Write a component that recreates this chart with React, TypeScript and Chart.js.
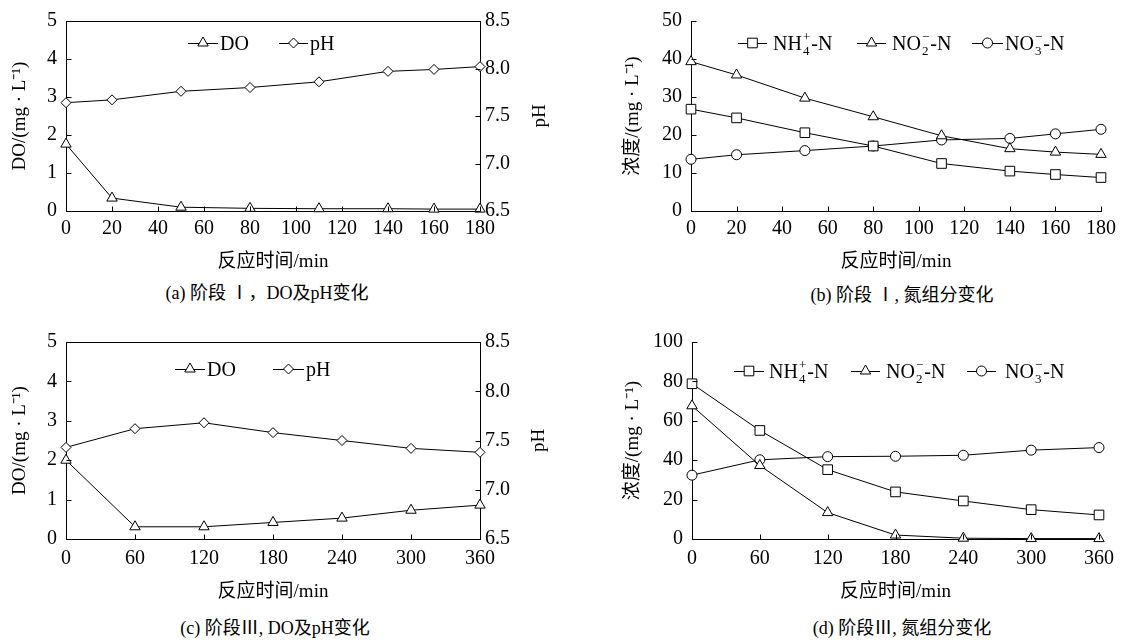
import React, { useEffect, useRef } from 'react';
import { Chart, registerables } from 'chart.js';

Chart.register(...registerables);

const SERIF = '"Liberation Serif", "Times New Roman", "Noto Sans CJK SC", serif';

// ---------- data ----------
const timeA = [0, 20, 50, 80, 110, 140, 160, 180];
const doA = [1.76, 0.34, 0.1, 0.07, 0.06, 0.06, 0.05, 0.05];
const phA = [7.64, 7.67, 7.76, 7.8, 7.86, 7.97, 7.99, 8.02];

const timeB = [0, 20, 50, 80, 110, 140, 160, 180];
const nh4B = [26.8, 24.5, 20.6, 17.1, 12.5, 10.5, 9.6, 8.8];
const no2B = [39.3, 35.8, 29.7, 24.8, 19.8, 16.4, 15.5, 14.9];
const no3B = [13.6, 14.8, 15.9, 17.1, 18.7, 19.1, 20.3, 21.5];

const timeC = [0, 60, 120, 180, 240, 300, 360];
const doC = [2.0, 0.31, 0.31, 0.42, 0.53, 0.73, 0.86];
const phC = [7.43, 7.62, 7.68, 7.58, 7.5, 7.42, 7.38];

const timeD = [0, 60, 120, 180, 240, 300, 360];
const nh4D = [78.8, 55.1, 35.2, 23.9, 19.3, 14.9, 12.2];
const no2D = [67.6, 37.3, 13.4, 2.0, 0.4, 0.2, 0.2];
const no3D = [32.4, 40.2, 41.8, 42.0, 42.5, 45.1, 46.4];

// tick labels
const xTicks180 = [0, 20, 40, 60, 80, 100, 120, 140, 160, 180];
const xTicks360 = [0, 60, 120, 180, 240, 300, 360];
const doTicks = [0, 1, 2, 3, 4, 5];
const phTicks = [6.5, 7.0, 7.5, 8.0, 8.5];
const concTicksB = [0, 10, 20, 30, 40, 50];
const concTicksD = [0, 20, 40, 60, 80, 100];

// text
const xTitle = '反应时间/min';
const doTitle = 'DO/(mg · L⁻¹)';
const concTitle = '浓度/(mg · L⁻¹)';
const phTitle = 'pH';
const captions = ['(a) 阶段 Ⅰ，DO及pH变化', '(b) 阶段 Ⅰ, 氮组分变化', '(c) 阶段Ⅲ, DO及pH变化', '(d) 阶段Ⅲ, 氮组分变化'];

type Part = { t: string; sub?: string; sup?: string };
const lgDO: Part[] = [{ t: 'DO' }];
const lgPH: Part[] = [{ t: 'pH' }];
const lgNH4: Part[] = [{ t: 'NH', sub: '4', sup: '+' }, { t: '-N' }];
const lgNO2: Part[] = [{ t: 'NO', sub: '2', sup: '−' }, { t: '-N' }];
const lgNO3: Part[] = [{ t: 'NO', sub: '3', sup: '−' }, { t: '-N' }];

// ---------- helpers ----------
const TICK_FONT = 20;
const TITLE_FONT = 19;
const RADIUS: Record<string, number> = { triangle: 6, rectRot: 5, rect: 6.8, circle: 5 };

function mkDataset(label: string, xs: number[], ys: number[], style: string, yAxisID = 'y') {
  return {
    label,
    data: xs.map((x, i) => ({ x, y: ys[i] })),
    yAxisID,
    borderColor: '#000',
    borderWidth: 1,
    pointStyle: style,
    pointRadius: RADIUS[style],
    pointHoverRadius: RADIUS[style],
    pointBackgroundColor: '#fff',
    pointBorderColor: '#000',
    pointBorderWidth: 1,
    tension: 0,
    fill: false,
    clip: false as any,
  };
}

function drawMarker(ctx: CanvasRenderingContext2D, style: string, x: number, y: number) {
  const r = RADIUS[style];
  ctx.beginPath();
  if (style === 'triangle') {
    let rad = 0;
    ctx.moveTo(x + Math.sin(rad) * r, y - Math.cos(rad) * r);
    rad += (2 * Math.PI) / 3;
    ctx.lineTo(x + Math.sin(rad) * r, y - Math.cos(rad) * r);
    rad += (2 * Math.PI) / 3;
    ctx.lineTo(x + Math.sin(rad) * r, y - Math.cos(rad) * r);
    ctx.closePath();
  } else if (style === 'rectRot') {
    ctx.moveTo(x - r, y);
    ctx.lineTo(x, y - r);
    ctx.lineTo(x + r, y);
    ctx.lineTo(x, y + r);
    ctx.closePath();
  } else if (style === 'rect') {
    const s = Math.SQRT1_2 * r;
    ctx.rect(x - s, y - s, 2 * s, 2 * s);
  } else {
    ctx.arc(x, y, r, 0, Math.PI * 2);
  }
  ctx.fillStyle = '#fff';
  ctx.fill();
  ctx.strokeStyle = '#000';
  ctx.lineWidth = 1;
  ctx.stroke();
}

type LegendItem = { x0: number; x1: number; tx: number; y: number; marker: string; parts: Part[] };

const framePlugin = {
  id: 'frame',
  afterDraw(chart: any, _args: any, opts: any) {
    const { ctx, chartArea: a } = chart;
    const px = (v: number) => Math.round(v) + 0.5;
    ctx.save();
    ctx.strokeStyle = '#000';
    ctx.lineWidth = 1;
    if (opts.box) {
      ctx.beginPath();
      ctx.moveTo(px(a.left), px(a.top));
      ctx.lineTo(px(a.right), px(a.top));
      ctx.stroke();
    }
    const L = 5;
    Object.keys(chart.scales).forEach((id) => {
      const s = chart.scales[id];
      s.ticks.forEach((t: any) => {
        const p = s.getPixelForValue(t.value);
        ctx.beginPath();
        if (s.axis === 'x') {
          ctx.moveTo(px(p), px(a.bottom));
          ctx.lineTo(px(p), px(a.bottom) - L);
        } else if (s.position === 'left') {
          ctx.moveTo(px(a.left), px(p));
          ctx.lineTo(px(a.left) + L, px(p));
        } else {
          ctx.moveTo(px(a.right), px(p));
          ctx.lineTo(px(a.right) - L, px(p));
        }
        ctx.stroke();
      });
    });
    if (opts.rightTitle) {
      ctx.save();
      ctx.translate(opts.rightTitle.x, (a.top + a.bottom) / 2);
      ctx.rotate(-Math.PI / 2);
      ctx.font = `${TITLE_FONT}px ${SERIF}`;
      ctx.fillStyle = '#000';
      ctx.textAlign = 'center';
      ctx.textBaseline = 'middle';
      ctx.fillText(opts.rightTitle.text, 0, 0);
      ctx.restore();
    }
    (opts.legend || []).forEach((it: LegendItem) => {
      ctx.beginPath();
      ctx.moveTo(it.x0, px(it.y));
      ctx.lineTo(it.x1, px(it.y));
      ctx.strokeStyle = '#000';
      ctx.lineWidth = 1;
      ctx.stroke();
      drawMarker(ctx, it.marker, (it.x0 + it.x1) / 2, it.y);
      let x = it.tx;
      const base = it.y + 7;
      ctx.fillStyle = '#000';
      ctx.textAlign = 'left';
      ctx.textBaseline = 'alphabetic';
      it.parts.forEach((p) => {
        ctx.font = `20px ${SERIF}`;
        ctx.fillText(p.t, x, base);
        x += ctx.measureText(p.t).width;
        if (p.sub || p.sup) {
          ctx.font = `13px ${SERIF}`;
          let w = 0;
          if (p.sub) {
            ctx.fillText(p.sub, x + 1, base + 5);
            w = Math.max(w, ctx.measureText(p.sub).width);
          }
          if (p.sup) {
            ctx.fillText(p.sup, x + 1, base - 9);
            w = Math.max(w, ctx.measureText(p.sup).width);
          }
          x += w + 2;
        }
      });
    });
    ctx.restore();
  },
};

type AxisSpec = {
  min: number;
  max: number;
  ticks: number[];
  size: number;
  pad: number;
  fmt?: (v: number) => string;
  title?: string;
  titlePad?: number;
  position: string;
};

function mkAxis(s: AxisSpec) {
  const isX = s.position === 'bottom';
  return {
    type: 'linear',
    position: s.position,
    min: s.min,
    max: s.max,
    afterBuildTicks: (sc: any) => {
      sc.ticks = s.ticks.map((v) => ({ value: v }));
    },
    afterFit: (sc: any) => {
      if (isX) sc.height = s.size;
      else sc.width = s.size;
    },
    grid: { display: false, drawTicks: false },
    border: { display: true, color: '#000', width: 1 },
    ticks: {
      autoSkip: false,
      maxRotation: 0,
      minRotation: 0,
      padding: s.pad,
      color: '#000',
      font: { family: SERIF, size: TICK_FONT },
      callback: (v: any) => (s.fmt ? s.fmt(Number(v)) : String(v)),
    },
    title: s.title
      ? {
          display: true,
          text: s.title,
          color: '#000',
          font: { family: SERIF, size: TITLE_FONT },
          padding: isX ? { top: 0, bottom: s.titlePad } : { top: s.titlePad, bottom: 0 },
        }
      : { display: false },
  };
}

type PanelDef = {
  left: number;
  top: number;
  width: number;
  height: number;
  config: any;
};

const panels: PanelDef[] = [
  {
    left: 0,
    top: 0,
    width: 561,
    height: 275,
    config: {
      type: 'line',
      data: {
        datasets: [mkDataset('DO', timeA, doA, 'triangle', 'y'), mkDataset('pH', timeA, phA, 'rectRot', 'y1')],
      },
      options: {
        layout: { padding: { top: 16, left: 0, right: 0, bottom: 0 } },
        scales: {
          x: mkAxis({ position: 'bottom', min: 0, max: 180, ticks: xTicks180, size: 64, pad: 6, title: xTitle, titlePad: 2 }),
          y: mkAxis({ position: 'left', min: 0, max: 5, ticks: doTicks, size: 66, pad: 9, title: doTitle, titlePad: 9 }),
          y1: mkAxis({ position: 'right', min: 6.5, max: 8.5, ticks: phTicks, size: 81, pad: 5, fmt: (v) => v.toFixed(1) }),
        },
        plugins: {
          frame: {
            box: true,
            rightTitle: { x: 540, text: phTitle },
            legend: [
              { x0: 188, x1: 218, tx: 220, y: 43, marker: 'triangle', parts: lgDO },
              { x0: 279, x1: 308, tx: 310, y: 43, marker: 'rectRot', parts: lgPH },
            ],
          },
        },
      },
    },
  },
  {
    left: 561,
    top: 0,
    width: 561,
    height: 275,
    config: {
      type: 'line',
      data: {
        datasets: [
          mkDataset('NH4+-N', timeB, nh4B, 'rect'),
          mkDataset('NO2--N', timeB, no2B, 'triangle'),
          mkDataset('NO3--N', timeB, no3B, 'circle'),
        ],
      },
      options: {
        layout: { padding: { top: 16, left: 0, right: 16, bottom: 0 } },
        scales: {
          x: mkAxis({ position: 'bottom', min: 0, max: 180, ticks: xTicks180, size: 64, pad: 6, title: xTitle, titlePad: 2 }),
          y: mkAxis({ position: 'left', min: 0, max: 50, ticks: concTicksB, size: 130, pad: 9, title: concTitle, titlePad: 61 }),
        },
        plugins: {
          frame: {
            box: false,
            legend: [
              { x0: 177, x1: 206, tx: 212, y: 43, marker: 'rect', parts: lgNH4 },
              { x0: 296, x1: 325, tx: 331, y: 43, marker: 'triangle', parts: lgNO2 },
              { x0: 411, x1: 442, tx: 444, y: 43, marker: 'circle', parts: lgNO3 },
            ],
          },
        },
      },
    },
  },
  {
    left: 0,
    top: 320,
    width: 561,
    height: 290,
    config: {
      type: 'line',
      data: {
        datasets: [mkDataset('DO', timeC, doC, 'triangle', 'y'), mkDataset('pH', timeC, phC, 'rectRot', 'y1')],
      },
      options: {
        layout: { padding: { top: 22, left: 0, right: 0, bottom: 0 } },
        scales: {
          x: mkAxis({ position: 'bottom', min: 0, max: 360, ticks: xTicks360, size: 71, pad: 8, title: xTitle, titlePad: 7 }),
          y: mkAxis({ position: 'left', min: 0, max: 5, ticks: doTicks, size: 66, pad: 9, title: doTitle, titlePad: 9 }),
          y1: mkAxis({ position: 'right', min: 6.5, max: 8.5, ticks: phTicks, size: 81, pad: 5, fmt: (v) => v.toFixed(1) }),
        },
        plugins: {
          frame: {
            box: true,
            rightTitle: { x: 539, text: phTitle },
            legend: [
              { x0: 175, x1: 205, tx: 207, y: 49, marker: 'triangle', parts: lgDO },
              { x0: 273, x1: 304, tx: 306, y: 49, marker: 'rectRot', parts: lgPH },
            ],
          },
        },
      },
    },
  },
  {
    left: 561,
    top: 320,
    width: 561,
    height: 290,
    config: {
      type: 'line',
      data: {
        datasets: [
          mkDataset('NH4+-N', timeD, nh4D, 'rect'),
          mkDataset('NO2--N', timeD, no2D, 'triangle'),
          mkDataset('NO3--N', timeD, no3D, 'circle'),
        ],
      },
      options: {
        layout: { padding: { top: 22, left: 0, right: 12, bottom: 0 } },
        scales: {
          x: mkAxis({ position: 'bottom', min: 0, max: 360, ticks: xTicks360, size: 71, pad: 8, title: xTitle, titlePad: 7 }),
          y: mkAxis({ position: 'left', min: 0, max: 100, ticks: concTicksD, size: 131, pad: 9, title: concTitle, titlePad: 61 }),
        },
        plugins: {
          frame: {
            box: false,
            legend: [
              { x0: 173, x1: 203, tx: 208, y: 51, marker: 'rect', parts: lgNH4 },
              { x0: 290, x1: 319, tx: 325, y: 51, marker: 'triangle', parts: lgNO2 },
              { x0: 406, x1: 435, tx: 444, y: 51, marker: 'circle', parts: lgNO3 },
            ],
          },
        },
      },
    },
  },
];

const captionPos = [
  { x: 267, y: 293 },
  { x: 902, y: 295 },
  { x: 275, y: 628 },
  { x: 902, y: 628 },
];

function ChartPanel({ def }: { def: PanelDef }) {
  const ref = useRef<HTMLCanvasElement | null>(null);
  useEffect(() => {
    if (!ref.current) return;
    const cfg = def.config;
    const chart = new Chart(ref.current, {
      type: cfg.type,
      data: cfg.data,
      options: {
        ...cfg.options,
        responsive: false,
        maintainAspectRatio: false,
        animation: false,
        devicePixelRatio: 1,
        events: [],
        plugins: {
          ...cfg.options.plugins,
          legend: { display: false },
          tooltip: { enabled: false },
          title: { display: false },
        },
      },
      plugins: [framePlugin as any],
    } as any);
    return () => chart.destroy();
  }, [def]);
  return (
    <canvas
      ref={ref}
      width={def.width}
      height={def.height}
      style={{ position: 'absolute', left: def.left, top: def.top, width: def.width, height: def.height }}
    />
  );
}

export default function App() {
  Chart.defaults.font.family = SERIF;
  Chart.defaults.color = '#000';
  return (
    <div
      style={{
        position: 'absolute',
        left: 0,
        top: 0,
        width: 1122,
        height: 641,
        background: '#fff',
        overflow: 'hidden',
      }}
    >
      {panels.map((p, i) => (
        <ChartPanel key={i} def={p} />
      ))}
      {captions.map((c, i) => (
        <div
          key={'c' + i}
          style={{
            position: 'absolute',
            left: captionPos[i].x,
            top: captionPos[i].y,
            transform: 'translate(-50%, -50%)',
            whiteSpace: 'nowrap',
            fontFamily: SERIF,
            fontSize: 18,
            color: '#000',
            lineHeight: 1,
          }}
        >
          {c}
        </div>
      ))}
    </div>
  );
}
